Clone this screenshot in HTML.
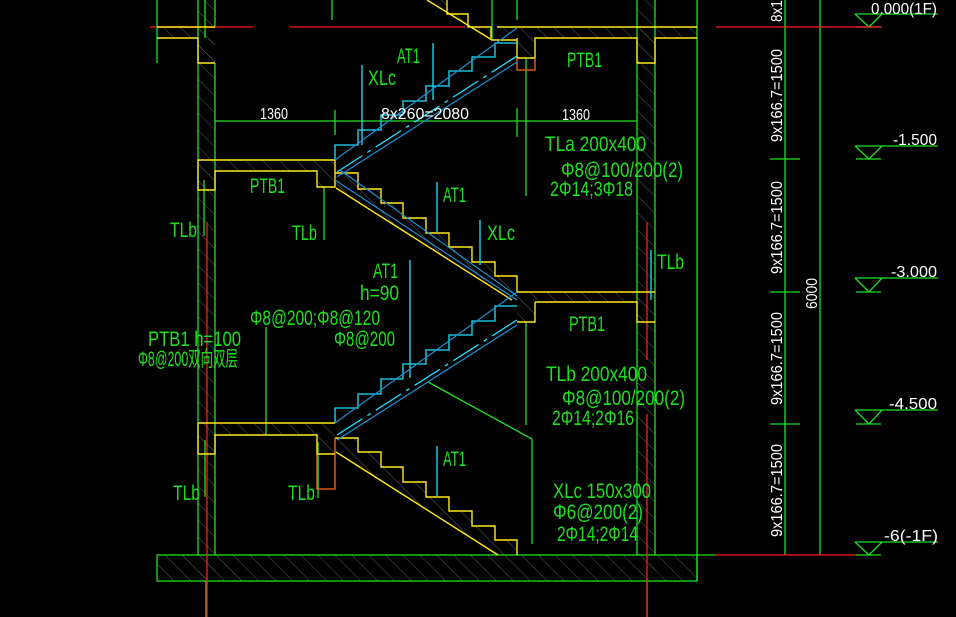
<!DOCTYPE html>
<html><head><meta charset="utf-8"><style>
html,body{margin:0;padding:0;background:#000;}
svg{display:block}
.g{fill:#1fe01f;font-family:"Liberation Sans","Noto Sans CJK SC",sans-serif;font-size:21px;}
.w{fill:#fff;font-family:"Liberation Sans",sans-serif;font-size:16px;}
</style></head><body>
<svg width="956" height="617" viewBox="0 0 956 617" xmlns="http://www.w3.org/2000/svg">
<defs>
<pattern id="h" width="12" height="12" patternUnits="userSpaceOnUse" patternTransform="rotate(-45)">
<line x1="0" y1="0" x2="0" y2="12" stroke="#5a5a5a" stroke-width="1"/>
</pattern>
</defs>
<rect width="956" height="617" fill="#000"/>

<g fill="url(#h)">
<rect x="198" y="0" width="17" height="581"/>
<rect x="637" y="0" width="18" height="581"/>
<rect x="157" y="555" width="540" height="26"/>
<path d="M157 27H215V63H198V38H157Z"/>
<path d="M198 160H335V187H317V171H215V190H198Z"/>
<path d="M198 423H335V454H317V435H215V454H198Z"/>
<path d="M497 27H697V38H655V63H637V38H535V58H517V38Z"/>
<path d="M517 292H655V322H637V302H535V322H517Z"/>
<path d="M335 173H358V189H381V203H403V218H426V233H449V247H472V262H495V276H517V300L512 300L335 188Z"/>
<path d="M335 438H358V452H381V467H403V482H426V497H449V511H472V526H495V540H517V555H498L335 452Z"/>
<path d="M427 0H447V14H468V27H491V38H492Z"/>
</g>

<g stroke="#1fe01f" stroke-width="1.3" fill="none">
<line x1="198" y1="0" x2="198" y2="555"/>
<line x1="215" y1="63" x2="215" y2="555"/>
<line x1="215" y1="0" x2="215" y2="27"/>
<line x1="157" y1="0" x2="157" y2="63"/>
<line x1="637" y1="0" x2="637" y2="555"/>
<line x1="655" y1="0" x2="655" y2="555"/>
<line x1="697" y1="0" x2="697" y2="581"/>
<rect x="157" y="555" width="540" height="26"/>
<line x1="697" y1="555" x2="716" y2="555"/>
<line x1="206" y1="581" x2="206" y2="617"/>
<line x1="647" y1="581" x2="647" y2="617"/>
<line x1="215" y1="121" x2="637" y2="121"/>
<line x1="335" y1="110" x2="335" y2="135"/>
<line x1="517" y1="108" x2="517" y2="137"/>
<line x1="785" y1="0" x2="785" y2="555"/>
<line x1="820" y1="0" x2="820" y2="555"/>
<line x1="770" y1="159" x2="800" y2="159"/>
<line x1="770" y1="292" x2="800" y2="292"/>
<line x1="770" y1="424" x2="800" y2="424"/>
<path d="M855 14H938M855 14L869 27L882 14M856 27H882"/>
<path d="M855 146H938M855 146L869 159L882 146M856 159H881"/>
<path d="M855 278H938M855 278L869 292L882 278M856 292H881"/>
<path d="M855 410H938M855 410L869 424L882 410M856 424H881"/>
<path d="M855 542H938M855 542L869 555L882 542M856 555H881"/>
<line x1="205" y1="0" x2="205" y2="38"/>
<line x1="332" y1="0" x2="332" y2="20"/>
<line x1="492" y1="0" x2="492" y2="40"/>
<line x1="517" y1="0" x2="517" y2="20"/>
<line x1="204" y1="180" x2="204" y2="236"/>
<line x1="324" y1="186" x2="324" y2="240"/>
<line x1="526" y1="58" x2="526" y2="196"/>
<line x1="266" y1="327" x2="266" y2="435"/>
<line x1="526" y1="322" x2="526" y2="425"/>
<path d="M428 382L532 439V544"/>
<line x1="318" y1="442" x2="318" y2="498"/>
<line x1="205" y1="440" x2="205" y2="497"/>
</g>

<g stroke="#ff1a1a" stroke-width="1.3">
<line x1="150" y1="27" x2="253" y2="27"/>
<line x1="290" y1="27" x2="465" y2="27"/>
<line x1="716" y1="27" x2="882" y2="27"/>
<line x1="716" y1="555" x2="856" y2="555"/>
<line x1="207" y1="222" x2="207" y2="617"/>
<line x1="647" y1="222" x2="647" y2="360"/>
<line x1="647" y1="414" x2="647" y2="617"/>
</g>

<g stroke="#ffe81a" stroke-width="1.4" fill="none">
<path d="M157 27H215M157 38H198V63H215"/>
<path d="M198 160H335V187H317V171H215V190H198Z"/>
<path d="M198 423H335M198 423V454H215V435H317V454H335"/>
<path d="M497 27H697M517 38V58H535V38H637V63H655V38H697"/>
<path d="M517 292H655M535 302V322H517M535 302H637V322H655"/>
<path d="M335 173H358V189H381V203H403V218H426V233H449V247H472V262H495V276H517V292"/>
<path d="M336 188L512 300"/>
<path d="M335 438H358V452H381V467H403V482H426V497H449V511H472V526H495V540H517V555"/>
<path d="M336 452L498 555"/>
<path d="M427 0L492 40H517M447 0V14H468V27H491V38"/>
</g>
<g stroke="#ff6a1a" stroke-width="1.3" fill="none">
<path d="M517 58V70H535V58"/>
<path d="M317 454V489H335V438"/>
</g>

<g stroke="#22e0ff" stroke-width="1.3" fill="none">
<path d="M335 160V145H358V130H381V115H403V101H426V86H449V71H472V57H495V43H517"/>
<path d="M335 423V408H358V394H381V379H403V364H426V350H449V335H472V321H495V306H517"/>
<path d="M337 172L517 56" stroke-dasharray="30 6 4 6"/>
<path d="M337 435L517 320" stroke-dasharray="30 6 4 6"/>
<line x1="362" y1="65" x2="362" y2="145"/>
<line x1="433" y1="43" x2="433" y2="100"/>
<line x1="437" y1="182" x2="437" y2="232"/>
<line x1="480" y1="220" x2="480" y2="265"/>
<line x1="410" y1="260" x2="410" y2="378"/>
<line x1="437" y1="446" x2="437" y2="496"/>
<line x1="651" y1="250" x2="651" y2="300"/>
</g>
<g stroke="#1a8fd0" stroke-width="1.2" fill="none">
<line x1="335" y1="160" x2="517" y2="28"/>
<line x1="337" y1="177" x2="517" y2="62"/>
<line x1="335" y1="180" x2="517" y2="300"/>
<line x1="340" y1="170" x2="517" y2="296"/>
<line x1="335" y1="423" x2="517" y2="292"/>
<line x1="337" y1="440" x2="517" y2="325"/>
</g>

<g class="g">
<text x="397" y="63" textLength="23" lengthAdjust="spacingAndGlyphs">AT1</text>
<text x="368" y="85" textLength="28" lengthAdjust="spacingAndGlyphs">XLc</text>
<text x="567" y="67" textLength="35" lengthAdjust="spacingAndGlyphs">PTB1</text>
<text x="250" y="193" textLength="35" lengthAdjust="spacingAndGlyphs">PTB1</text>
<text x="170" y="237" textLength="27" lengthAdjust="spacingAndGlyphs">TLb</text>
<text x="292" y="240" textLength="25" lengthAdjust="spacingAndGlyphs">TLb</text>
<text x="443" y="202" textLength="23" lengthAdjust="spacingAndGlyphs">AT1</text>
<text x="487" y="240" textLength="28" lengthAdjust="spacingAndGlyphs">XLc</text>
<text x="373" y="278" textLength="25" lengthAdjust="spacingAndGlyphs">AT1</text>
<text x="360" y="300" textLength="39" lengthAdjust="spacingAndGlyphs">h=90</text>
<text x="250" y="325" textLength="130" lengthAdjust="spacingAndGlyphs">Φ8@200;Φ8@120</text>
<text x="334" y="346" textLength="61" lengthAdjust="spacingAndGlyphs">Φ8@200</text>
<text x="148" y="346" textLength="93" lengthAdjust="spacingAndGlyphs">PTB1 h=100</text>
<text x="138" y="366" textLength="100" lengthAdjust="spacingAndGlyphs">Φ8@200双向双层</text>
<text x="545" y="151" textLength="101" lengthAdjust="spacingAndGlyphs">TLa 200x400</text>
<text x="561" y="177" textLength="122" lengthAdjust="spacingAndGlyphs">Φ8@100/200(2)</text>
<text x="550" y="196" textLength="83" lengthAdjust="spacingAndGlyphs">2Φ14;3Φ18</text>
<text x="657" y="269" textLength="27" lengthAdjust="spacingAndGlyphs">TLb</text>
<text x="569" y="331" textLength="36" lengthAdjust="spacingAndGlyphs">PTB1</text>
<text x="546" y="381" textLength="101" lengthAdjust="spacingAndGlyphs">TLb 200x400</text>
<text x="562" y="405" textLength="123" lengthAdjust="spacingAndGlyphs">Φ8@100/200(2)</text>
<text x="552" y="425" textLength="82" lengthAdjust="spacingAndGlyphs">2Φ14;2Φ16</text>
<text x="443" y="466" textLength="23" lengthAdjust="spacingAndGlyphs">AT1</text>
<text x="173" y="500" textLength="27" lengthAdjust="spacingAndGlyphs">TLb</text>
<text x="288" y="500" textLength="27" lengthAdjust="spacingAndGlyphs">TLb</text>
<text x="553" y="498" textLength="98" lengthAdjust="spacingAndGlyphs">XLc 150x300</text>
<text x="553" y="519" textLength="90" lengthAdjust="spacingAndGlyphs">Φ6@200(2)</text>
<text x="557" y="541" textLength="81" lengthAdjust="spacingAndGlyphs">2Φ14;2Φ14</text>
</g>

<g class="w">
<text x="260" y="119" textLength="28" lengthAdjust="spacingAndGlyphs">1360</text>
<text x="381" y="119" textLength="88" lengthAdjust="spacingAndGlyphs">8x260=2080</text>
<text x="562" y="120" textLength="28" lengthAdjust="spacingAndGlyphs">1360</text>
<text x="871" y="14" textLength="66" lengthAdjust="spacingAndGlyphs">0.000(1F)</text>
<text x="893" y="145" textLength="44" lengthAdjust="spacingAndGlyphs">-1.500</text>
<text x="891" y="277" textLength="46" lengthAdjust="spacingAndGlyphs">-3.000</text>
<text x="889" y="409" textLength="48" lengthAdjust="spacingAndGlyphs">-4.500</text>
<text x="884" y="541" textLength="54" lengthAdjust="spacingAndGlyphs">-6(-1F)</text>
<text transform="translate(782,142) rotate(-90)" textLength="93" lengthAdjust="spacingAndGlyphs">9x166.7=1500</text>
<text transform="translate(782,274) rotate(-90)" textLength="93" lengthAdjust="spacingAndGlyphs">9x166.7=1500</text>
<text transform="translate(782,405) rotate(-90)" textLength="93" lengthAdjust="spacingAndGlyphs">9x166.7=1500</text>
<text transform="translate(782,537) rotate(-90)" textLength="93" lengthAdjust="spacingAndGlyphs">9x166.7=1500</text>
<text transform="translate(782,22) rotate(-90)" textLength="22" lengthAdjust="spacingAndGlyphs">8x1</text>
<text transform="translate(817,309) rotate(-90)" textLength="31" lengthAdjust="spacingAndGlyphs">6000</text>
</g>
</svg>
</body></html>
